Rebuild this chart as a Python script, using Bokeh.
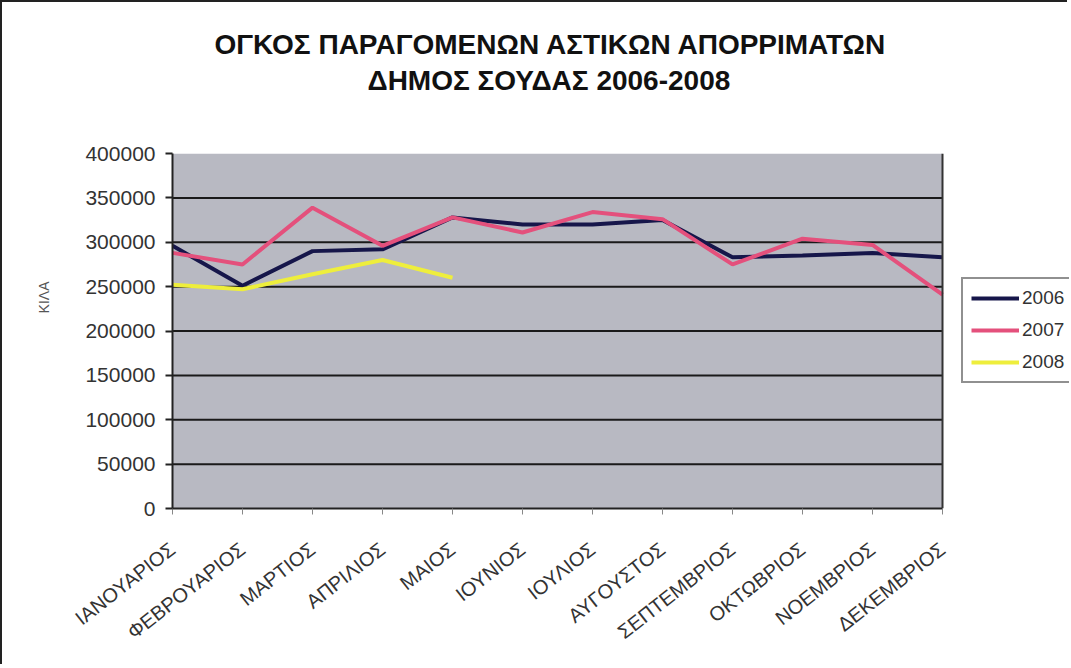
import math
from bokeh.plotting import figure
from bokeh.models import (Range1d, LinearAxis, FixedTicker, NumeralTickFormatter,
                          Title, Legend, LegendItem, Span, BoxAnnotation)
from bokeh.embed import file_html
from bokeh.resources import INLINE

months = ["ΙΑΝΟΥΑΡΙΟΣ", "ΦΕΒΡΟΥΑΡΙΟΣ", "ΜΑΡΤΙΟΣ", "ΑΠΡΙΛΙΟΣ", "ΜΑΙΟΣ", "ΙΟΥΝΙΟΣ",
          "ΙΟΥΛΙΟΣ", "ΑΥΓΟΥΣΤΟΣ", "ΣΕΠΤΕΜΒΡΙΟΣ", "ΟΚΤΩΒΡΙΟΣ", "ΝΟΕΜΒΡΙΟΣ", "ΔΕΚΕΜΒΡΙΟΣ"]
y2006 = [296000, 251000, 290000, 292000, 328000, 320000, 320000, 325000, 283000, 285000, 288000, 283000]
y2007 = [288000, 275000, 339000, 296000, 328000, 311000, 334000, 326000, 275000, 304000, 297000, 241000]
y2008 = [252000, 247000, 264000, 280000, 260000]
y_ticks = [0, 50000, 100000, 150000, 200000, 250000, 300000, 350000, 400000]
title1 = "ΟΓΚΟΣ ΠΑΡΑΓΟΜΕΝΩΝ ΑΣΤΙΚΩΝ ΑΠΟΡΡΙΜΑΤΩΝ"
title2 = "ΔΗΜΟΣ ΣΟΥΔΑΣ 2006-2008"
y_label = "ΚΙΛΑ"

FONT = "Liberation Sans"
TXT = "#333333"

W, H = 1067, 664
LEFT, TOP, BOTTOM = 170, 151, 158
PLOT_W = 770  # pixel width of the grey plotting area
frame_w = W - LEFT
last = len(months) - 1
x_end = last * frame_w / PLOT_W
y_top = y_ticks[-1]

p = figure(width=W, height=H, output_backend="svg", toolbar_location=None,
           x_range=Range1d(0, x_end), y_range=Range1d(0, y_top),
           x_axis_type=None, y_axis_type=None,
           min_border_left=LEFT, min_border_right=0, min_border_top=TOP, min_border_bottom=BOTTOM)
p.background_fill_color = "white"
p.border_fill_color = "white"
p.outline_line_color = None
p.styles = {"border-left": "2px solid #222", "border-top": "2px solid #222"}
p.xgrid.grid_line_color = None
p.ygrid.grid_line_color = None

p.add_layout(BoxAnnotation(left=0, right=last, bottom=0, top=y_top,
                           fill_color="#b8b9c2", fill_alpha=1, line_color=None, level="underlay"))

xs = list(range(len(months)))

yaxis = LinearAxis(ticker=FixedTicker(ticks=y_ticks), formatter=NumeralTickFormatter(format="0"))
yaxis.axis_line_color = "#222"
yaxis.axis_line_width = 2
yaxis.major_tick_line_color = "#222"
yaxis.major_tick_line_width = 2
yaxis.major_tick_out = 7
yaxis.major_tick_in = 0
yaxis.minor_tick_line_color = None
yaxis.major_label_text_font = FONT
yaxis.major_label_text_font_size = "21px"
yaxis.major_label_text_color = TXT
yaxis.major_label_standoff = 10
p.add_layout(yaxis, "left")

xaxis = LinearAxis(ticker=FixedTicker(ticks=xs), bounds=(0, last),
                   major_label_overrides={i: m for i, m in enumerate(months)})
xaxis.axis_line_color = "#222"
xaxis.axis_line_width = 2
xaxis.major_tick_line_color = "#888"
xaxis.major_tick_line_width = 1
xaxis.major_tick_out = 6
xaxis.major_tick_in = 0
xaxis.minor_tick_line_color = None
xaxis.major_label_orientation = math.radians(38)
xaxis.major_label_text_font = FONT
xaxis.major_label_text_font_size = "20px"
xaxis.major_label_text_color = TXT
xaxis.major_label_standoff = 32
p.add_layout(xaxis, "below")

grid_vals = y_ticks[1:-1]
p.segment(x0=[0] * len(grid_vals), x1=[last] * len(grid_vals), y0=grid_vals, y1=grid_vals,
          line_color="#1a1a1a", line_width=2)

p.add_layout(Span(location=last, dimension="height", line_color="#333", line_width=2))

r06 = p.line(xs, y2006, line_color="#16164a", line_width=4)
r07 = p.line(xs, y2007, line_color="#e4507c", line_width=4)
r08 = p.line(xs[:len(y2008)], y2008, line_color="#eeee3c", line_width=4)

legend = Legend(items=[LegendItem(label="2006", renderers=[r06]),
                       LegendItem(label="2007", renderers=[r07]),
                       LegendItem(label="2008", renderers=[r08])],
                location=(789, 125))
legend.border_line_color = "#222"
legend.border_line_width = 2
legend.background_fill_color = "white"
legend.background_fill_alpha = 1
legend.label_text_font = FONT
legend.label_text_font_size = "19px"
legend.label_text_color = TXT
legend.glyph_width = 48
legend.glyph_height = 20
legend.label_standoff = 3
legend.spacing = 10
legend.padding = 8
legend.margin = 0
p.add_layout(legend, "center")

spacer = Title(text=" ", standoff=30, text_font=FONT, text_font_size="23px")
t2 = Title(text=title2, align="left", offset=195, standoff=0,
           text_font=FONT, text_font_style="bold", text_font_size="28px", text_color="#111")
t1 = Title(text=title1, align="left", offset=42, standoff=6,
           text_font=FONT, text_font_style="bold", text_font_size="28px", text_color="#111")
p.add_layout(spacer, "above")
p.add_layout(t2, "above")
p.add_layout(t1, "above")

ty = Title(text=y_label, align="right", offset=128, standoff=62,
           text_font=FONT, text_font_style="normal", text_font_size="14px", text_color="#555")
p.add_layout(ty, "left")

open("out.html", "w").write(file_html(p, INLINE))
